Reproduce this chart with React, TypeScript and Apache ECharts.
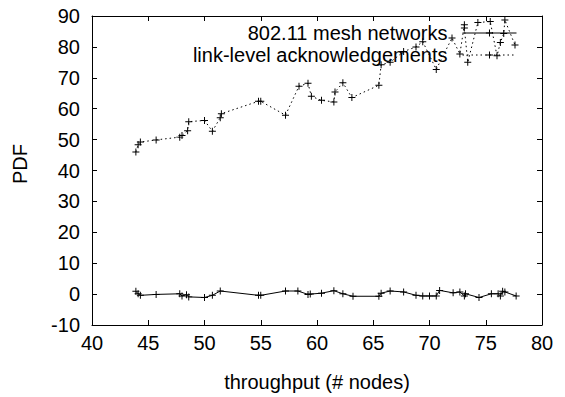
import React, { useEffect, useRef } from "react";
import * as echarts from "echarts";

const xTicks = { min: 40, max: 80, interval: 5 };
const yTicks = { min: -10, max: 90, interval: 10 };

const seriesNames = ["802.11 mesh networks", "link-level acknowledgements"];

const meshX = [43.9, 44.1, 44.3, 45.7, 47.8, 48.0, 48.4, 48.6, 50.0, 50.7, 51.4, 54.8, 55.0, 57.2, 58.3, 59.2, 59.4, 60.4, 61.5, 62.3, 63.2, 65.5, 65.7, 66.5, 67.7, 68.8, 69.4, 70.0, 70.6, 70.9, 72.1, 72.7, 73.1, 73.2, 74.4, 75.5, 76.1, 76.3, 76.5, 76.7, 77.7];
const meshY = [0.9, 0.1, -0.4, -0.1, 0.1, -0.6, -0.2, -0.9, -1.1, -0.4, 1.0, -0.4, -0.4, 1.0, 1.0, -0.1, 0.0, 0.3, 1.1, 0.1, -0.7, -0.7, 0.3, 1.0, 0.7, -0.4, -0.6, -0.6, -0.6, 1.2, 0.4, 0.7, -0.6, 0.1, -1.1, 0.1, 0.1, -0.6, 0.9, 0.7, -0.6];

const ackX = [43.9, 44.1, 44.3, 45.7, 47.8, 48.0, 48.5, 48.6, 50.0, 50.7, 51.4, 51.5, 54.8, 55.0, 57.2, 58.4, 59.2, 59.5, 60.4, 61.5, 61.6, 62.3, 63.1, 65.5, 65.7, 66.5, 67.7, 68.8, 69.4, 70.6, 72.0, 72.7, 73.1, 73.1, 73.4, 74.3, 75.4, 76.0, 76.3, 76.6, 76.7, 77.6];
const ackY = [46.0, 48.3, 49.2, 49.9, 50.8, 51.3, 52.9, 55.8, 56.2, 52.7, 57.1, 58.4, 62.4, 62.4, 57.9, 67.3, 68.2, 64.0, 62.7, 62.2, 65.4, 68.4, 63.6, 67.6, 74.2, 75.0, 78.5, 80.0, 81.7, 72.7, 82.9, 77.7, 87.2, 86.1, 75.0, 87.9, 88.2, 77.1, 81.4, 84.3, 88.7, 80.6];

const xName = "throughput (# nodes)";
const yName = "PDF";

const FONT = "'Liberation Sans', Arial, Helvetica, sans-serif";
const FS = 20;
const PLUS = "path://M4.3,0H5.7V4.3H10V5.7H5.7V10H4.3V5.7H0V4.3H4.3Z";
const DOT: number[] = [1.5, 3];

export default function App() {
  const ref = useRef<HTMLDivElement>(null);
  useEffect(() => {
    if (!ref.current) return;
    const chart = echarts.init(ref.current, null, { renderer: "svg" });
    const axisCommon = {
      type: "value" as const,
      axisLine: { show: true, onZero: false, lineStyle: { color: "#000", width: 1 } },
      axisTick: { show: true, inside: true, length: 5, lineStyle: { color: "#000" } },
      splitLine: { show: false },
    };
    chart.setOption({
      animation: false,
      textStyle: { fontFamily: FONT },
      grid: { left: 92, right: 23, top: 16, bottom: 65, containLabel: false },
      legend: {
        orient: "vertical",
        align: "right",
        right: 43,
        top: 18,
        itemWidth: 54,
        itemHeight: 9,
        itemGap: 2,
        selectedMode: false,
        textStyle: { fontSize: FS, color: "#000", fontFamily: FONT, lineHeight: 20, padding: [0, 10, 0, 0] },
        data: [
          { name: seriesNames[0], lineStyle: { width: 1, type: "solid", color: "#000" } },
          { name: seriesNames[1], lineStyle: { width: 1, type: DOT, color: "#000" } },
        ],
      },
      xAxis: [
        {
          ...axisCommon,
          ...xTicks,
          position: "bottom",
          axisLabel: { fontSize: FS, color: "#000", margin: 8, fontFamily: FONT },
          name: xName,
          nameLocation: "middle",
          nameGap: 47,
          nameTextStyle: { fontSize: FS, color: "#000", fontFamily: FONT },
        },
        { ...axisCommon, ...xTicks, position: "top", axisLabel: { show: false } },
      ],
      yAxis: [
        {
          ...axisCommon,
          ...yTicks,
          position: "left",
          axisLabel: { fontSize: FS, color: "#000", margin: 12, fontFamily: FONT },
        },
        { ...axisCommon, ...yTicks, position: "right", axisLabel: { show: false } },
      ],
      graphic: [
        {
          type: "text",
          x: 20,
          y: 164,
          rotation: Math.PI / 2,
          style: { text: yName, fontSize: FS, fill: "#000", font: `${FS}px ${FONT}`, align: "center", verticalAlign: "middle" },
        },
      ],
      series: [
        {
          name: seriesNames[0],
          type: "line",
          data: meshX.map((x, i) => [x, meshY[i]]),
          symbol: PLUS,
          symbolSize: 7,
          itemStyle: { color: "#000" },
          lineStyle: { color: "#000", width: 1, type: "solid" },
        },
        {
          name: seriesNames[1],
          type: "line",
          data: ackX.map((x, i) => [x, ackY[i]]),
          symbol: PLUS,
          symbolSize: 7,
          itemStyle: { color: "#000" },
          lineStyle: { color: "#000", width: 1, type: DOT },
        },
      ],
    });
    return () => chart.dispose();
  }, []);
  return <div ref={ref} style={{ width: 565, height: 397, position: "absolute", left: 0, top: 0 }} />;
}
